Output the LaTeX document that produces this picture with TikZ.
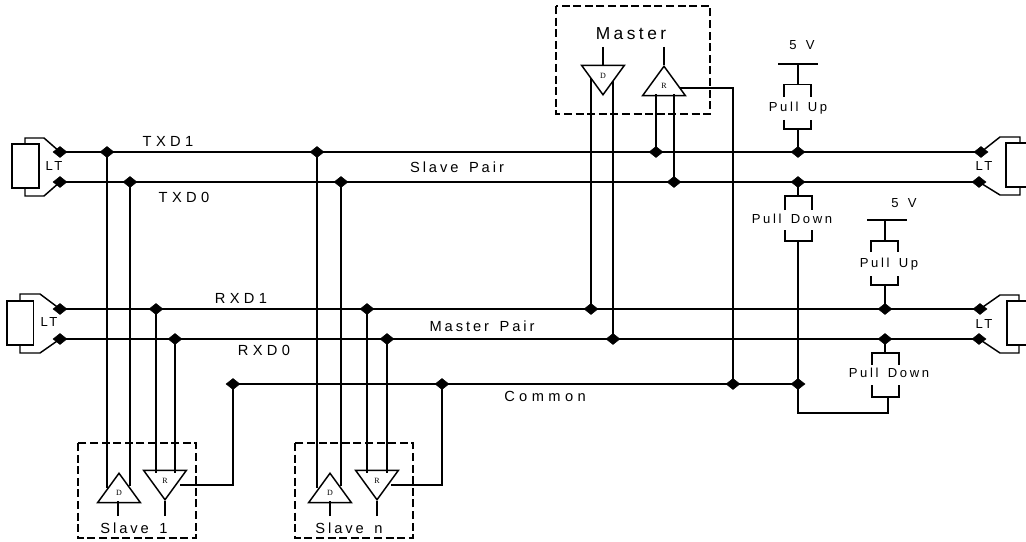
\documentclass[tikz,border=0pt]{standalone}
\usepackage{fontspec}
\setmainfont{Liberation Sans}[LetterSpace=20,WordSpace=1.5]
\newfontfamily\trifont{Liberation Serif}
\usetikzlibrary{shapes.geometric}
\tikzset{
  wire/.style={line width=1.1pt},
  jnct/.style={diamond,draw=black,fill=black,inner sep=0pt,outer sep=-1pt,aspect=1.3,minimum width=9.5pt,minimum height=7.3pt},
  lbl/.style={inner sep=0pt,font=\fontsize{11}{13}\selectfont},
  widelbl/.style={inner sep=0pt,font=\fontsize{11}{13}\selectfont\addfontfeature{LetterSpace=30}},
  biglbl/.style={inner sep=0pt,font=\fontsize{13}{15}\selectfont},
  smlbl/.style={inner sep=0pt,font=\fontsize{9.8}{11}\selectfont},
  unit/.style={line width=1.2pt,dash pattern=on 6pt off 2.7pt},
  tri/.style={isosceles triangle,isosceles triangle apex angle=73,isosceles triangle stretches,draw=black,line width=1.1pt,inner sep=0pt,minimum width=32pt,minimum height=22pt,font=\trifont\fontsize{6}{7}\selectfont},
  triup/.style={tri,shape border rotate=90,anchor=apex},
  tridn/.style={tri,shape border rotate=270,anchor=apex},
}
\begin{document}
\begin{tikzpicture}[x=0.75pt,y=-0.75pt]
\useasboundingbox (0,0) rectangle (1026,542);
% bus junctions
\node[jnct] (tl) at (60,152) {};
\node[jnct] (bl) at (60,182) {};
\node[jnct] (tr) at (981,152) {};
\node[jnct] (br) at (979,182) {};
\node[jnct] (rtl) at (60,309) {};
\node[jnct] (rbl) at (60,339) {};
\node[jnct] (rtr) at (980,309) {};
\node[jnct] (rbr) at (979,339) {};
\node[jnct] (ta) at (107,152) {};
\node[jnct] (tb) at (317,152) {};
\node[jnct] (tc) at (656,152) {};
\node[jnct] (td) at (798,152) {};
\node[jnct] (ba) at (130,182) {};
\node[jnct] (bb) at (341,182) {};
\node[jnct] (bc) at (674,182) {};
\node[jnct] (bd) at (798,182) {};
\node[jnct] (ra) at (156,309) {};
\node[jnct] (rb) at (367,309) {};
\node[jnct] (rc) at (591,309) {};
\node[jnct] (rd) at (885,309) {};
\node[jnct] (sa) at (175,339) {};
\node[jnct] (sb) at (387,339) {};
\node[jnct] (sc) at (613,339) {};
\node[jnct] (sd) at (885,339) {};
\node[jnct] (ca) at (233,384) {};
\node[jnct] (cb) at (442,384) {};
\node[jnct] (cc) at (733,384) {};
\node[jnct] (cd) at (798,384) {};
\draw[wire] (tl) -- (tr);
\draw[wire] (bl) -- (br);
\draw[wire] (rtl) -- (rtr);
\draw[wire] (rbl) -- (rbr);
\draw[wire] (ca) -- (cd);
% drivers and receivers
\node[tridn] (md) at (603,96) {D};
\node[triup] (mr) at (664,65) {R};
\node[triup] (s1d) at (119,472) {D};
\node[tridn] (s1r) at (165,501) {R};
\node[triup] (snd) at (330,472) {D};
\node[tridn] (snr) at (377,501) {R};
% ends of the branches
\coordinate (mda) at (591,78);
\coordinate (mdb) at (613,81);
\coordinate (mra) at (656,94.5);
\coordinate (mrb) at (674,94.5);
\coordinate (mrout) at (680,88);
\coordinate (mrtop) at (664,47);
\coordinate (mdtop) at (603,47);
\coordinate (mdbase) at (603,65);
\coordinate (s1a) at (107,488);
\coordinate (s1b) at (130,486);
\coordinate (s1c) at (156,473);
\coordinate (s1e) at (175,473);
\coordinate (s1out) at (180,485);
\coordinate (s1dst) at (118,516);
\coordinate (s1dbase) at (118,501);
\coordinate (s1rst) at (165,516);
\coordinate (sna) at (317,488);
\coordinate (snb) at (341,486);
\coordinate (snc) at (367,473);
\coordinate (sne) at (387,473);
\coordinate (snout) at (391,485);
\coordinate (sndst) at (330,516);
\coordinate (sndbase) at (330,501);
\coordinate (snrst) at (377,516);
\draw[wire] (ta) -- (s1a);
\draw[wire] (ba) -- (s1b);
\draw[wire] (ra) -- (s1c);
\draw[wire] (sa) -- (s1e);
\draw[wire] (tb) -- (sna);
\draw[wire] (bb) -- (snb);
\draw[wire] (rb) -- (snc);
\draw[wire] (sb) -- (sne);
\draw[wire] (rc) -- (mda);
\draw[wire] (sc) -- (mdb);
\draw[wire] (tc) -- (mra);
\draw[wire] (bc) -- (mrb);
\draw[wire] (mrout) -| (cc);
\draw[wire] (s1out) -| (ca);
\draw[wire] (snout) -| (cb);
\draw[wire] (mdtop) -- (mdbase);
\draw[wire] (mrtop) -- (mr.apex);
\draw[wire] (s1dst) -- (s1dbase);
\draw[wire] (s1rst) -- (s1r.apex);
\draw[wire] (sndst) -- (sndbase);
\draw[wire] (snrst) -- (snr.apex);
% dashed boxes
\draw[unit] (556,6) rectangle (710,114);
\draw[unit] (78,443) rectangle (196,538);
\draw[unit] (295,443) rectangle (413,538);
\node[biglbl] (mlbl) at (631,34) {Master};
\node[lbl] (s1lbl) at (134,528) {Slave 1};
\node[lbl] (snlbl) at (349,528) {Slave n};
% line terminators
\draw[wire] (12,144) rectangle (39,188);
\draw[wire] (25,144) |- (44,138) -- (tl);
\draw[wire] (25,188) |- (44,196) -- (bl);
\draw[wire] (7,301) rectangle (33.5,345);
\draw[wire] (20,301) |- (40,294) -- (rtl);
\draw[wire] (20,345) |- (40,353) -- (rbl);
\draw[wire] (1026,143) -- (1006,143) -- (1006,187) -- (1026,187);
\draw[wire] (1020,143) |- (1000,137) -- (tr);
\draw[wire] (1020,187) |- (1000,195) -- (br);
\draw[wire] (1026,301) -- (1007,301) -- (1007,345) -- (1026,345);
\draw[wire] (1019,301) |- (1000,295) -- (rtr);
\draw[wire] (1019,345) |- (1000,353) -- (rbr);
\node[smlbl] (lt1) at (54,166) {LT};
\node[smlbl] (lt2) at (49,322) {LT};
\node[smlbl] (lt3) at (984,166) {LT};
\node[smlbl] (lt4) at (984,324) {LT};
% pull up and pull down
\coordinate (up1) at (798,64);
\coordinate (up1a) at (798,84.5);
\coordinate (up1b) at (798,129);
\draw[wire] (778,64) -- (818,64);
\draw[wire] (up1) -- (up1a);
\draw[wire] (up1b) -- (td);
\draw[wire] (784,97) |- (811,84.5) -- (811,97);
\draw[wire] (784,120) |- (811,129) -- (811,120);
\node[smlbl] (up1lbl) at (798,108) {Pull Up};
\node[smlbl] (v1) at (802,45) {5 V};
\coordinate (dn1a) at (798,196);
\coordinate (dn1b) at (798,241);
\coordinate (dn2a) at (885,353);
\coordinate (dn2b) at (888,397);
\coordinate (dn2c) at (888,413);
\coordinate (dn2d) at (798,413);
\draw[wire] (bd) -- (dn1a);
\draw[wire] (785,210) |- (812,196) -- (812,210);
\draw[wire] (785,230) |- (812,241) -- (812,230);
\node[smlbl] (dn1lbl) at (792,219) {Pull Down};
\draw[wire] (dn1b) -- (dn2d) -- (dn2c) -- (dn2b);
\draw[wire] (sd) -- (dn2a);
\draw[wire] (872,365) |- (899,353) -- (899,365);
\draw[wire] (872,385) |- (899,397) -- (899,385);
\node[smlbl] (dn2lbl) at (889,373) {Pull Down};
\coordinate (up2) at (885,220);
\coordinate (up2a) at (885,241);
\coordinate (up2b) at (885,285);
\draw[wire] (867,220) -- (907,220);
\draw[wire] (up2) -- (up2a);
\draw[wire] (up2b) -- (rd);
\draw[wire] (871,252) |- (898,241) -- (898,252);
\draw[wire] (871,276) |- (898,285) -- (898,276);
\node[smlbl] (up2lbl) at (889,264) {Pull Up};
\node[smlbl] (v2) at (904,203) {5 V};
% signal names
\node[widelbl] (txa) at (168,141) {TXD1};
\node[widelbl] (txb) at (184,197) {TXD0};
\node[widelbl] (rxa) at (241,298) {RXD1};
\node[widelbl] (rxb) at (264,350) {RXD0};
\node[lbl] (slp) at (457,167) {Slave Pair};
\node[lbl] (msp) at (482,326) {Master Pair};
\node[widelbl] (com) at (545,396) {Common};
\end{tikzpicture}
\end{document}
